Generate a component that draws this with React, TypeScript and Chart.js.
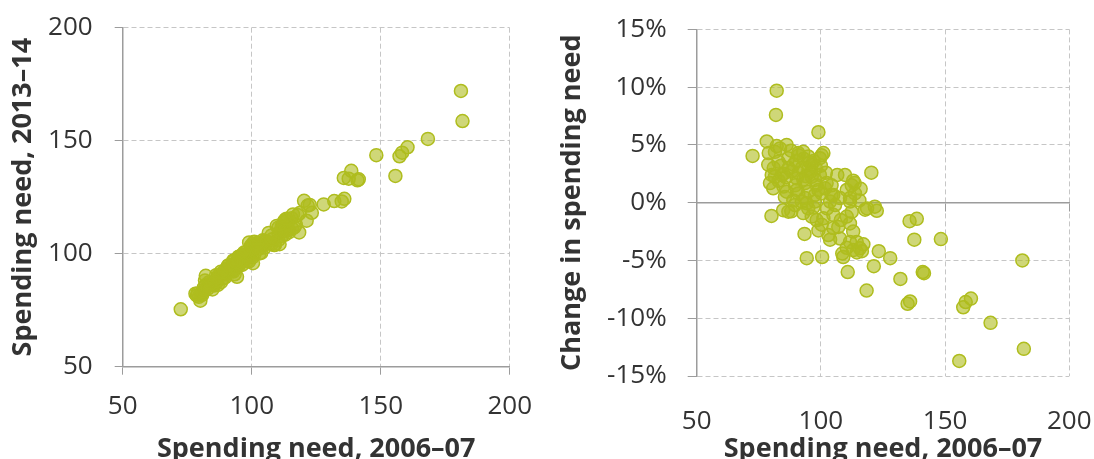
import React, { useEffect, useRef } from 'react';
import { Chart, registerables } from 'chart.js';

Chart.register(...registerables);

// Spending need per authority, 2006-07 (x in both panels)
const need0607: number[] = [
  82.2, 81.9, 99.0, 72.5, 78.2, 120.3, 80.1, 84.8, 88.1, 93.4,
  94.3, 100.5, 110.8, 118.4, 121.3, 123.3, 127.9, 132.0, 135.7, 138.6,
  137.6, 148.3, 141.0, 141.5, 134.9, 135.9, 181.1, 157.3, 158.3, 160.4,
  168.3, 155.7, 181.7, 117.8, 121.7, 122.5, 118.6, 106.6, 109.7, 113.6,
  113.0, 110.4, 113.7, 111.7, 112.4, 110.4, 111.7, 105.7, 105.0, 107.0,
  105.0, 103.0, 103.7, 107.7, 111.7, 114.4, 117.1, 110.4, 113.0, 115.7,
  108.6, 109.0, 99.0, 100.3, 96.3, 98.3, 101.0, 92.9, 94.9, 94.3,
  103.7, 105.0, 107.7, 111.7, 112.4, 88.9, 92.3, 86.2, 90.3, 80.8,
  79.5, 81.5, 84.9, 90.3, 92.9, 96.3, 98.3, 100.3, 97.6, 102.3,
  101.7, 86.2, 82.2, 81.5, 83.5, 101.0, 100.3, 92.9, 90.9, 94.9,
  99.6, 78.8, 82.9, 86.9, 80.2, 84.2, 88.2, 92.3, 96.3, 84.9,
  89.6, 93.6, 97.6, 99.6, 85.5, 90.9, 94.9, 99.0, 104.3, 104.3,
  93.6, 97.6, 89.6, 86.9, 88.0, 90.0, 95.5, 98.0, 87.0, 84.0,
  79.0, 96.0, 91.0, 100.0, 102.0, 81.0, 115.5, 116.0, 102.5, 108.0,
  113.0, 97.0, 89.0, 93.0, 95.0, 91.0, 86.0, 83.0, 97.0, 94.0,
  114.5, 116.5,
];

// Spending need per authority, 2013-14 (y in left panel)
const need1314: number[] = [
  90.2, 88.1, 105.0, 75.4, 82.3, 123.4, 79.2, 84.2, 87.4, 90.9,
  89.8, 95.8, 104.2, 109.4, 114.6, 118.1, 121.8, 123.3, 133.5, 136.7,
  133.2, 143.6, 132.5, 132.9, 123.1, 124.3, 172.0, 143.1, 144.7, 147.1,
  150.8, 134.4, 158.7, 117.1, 121.3, 121.6, 118.0, 109.2, 112.3, 115.5,
  115.1, 111.6, 114.6, 111.8, 111.5, 109.1, 109.7, 105.5, 103.9, 104.8,
  102.7, 100.1, 100.4, 104.4, 107.9, 110.5, 112.9, 106.1, 108.4, 111.1,
  103.8, 103.9, 96.6, 98.4, 95.1, 96.8, 99.6, 92.1, 94.4, 94.3,
  103.8, 105.7, 108.1, 112.1, 114.1, 89.1, 92.4, 87.0, 91.3, 81.8,
  80.9, 83.3, 87.0, 92.2, 94.8, 98.5, 99.8, 101.1, 98.3, 104.0,
  103.0, 90.5, 86.2, 85.1, 87.4, 105.3, 104.4, 97.0, 94.8, 98.7,
  103.4, 81.4, 85.8, 90.2, 82.1, 86.2, 90.6, 95.1, 99.5, 86.1,
  90.9, 95.2, 99.5, 102.0, 85.9, 91.6, 95.8, 100.1, 105.9, 105.0,
  94.0, 97.7, 89.4, 86.2, 92.0, 93.2, 98.8, 100.9, 89.6, 86.7,
  82.4, 98.6, 93.4, 103.2, 104.7, 83.4, 115.7, 117.4, 102.0, 106.4,
  110.2, 96.6, 91.9, 96.5, 97.8, 94.7, 87.9, 84.6, 100.5, 96.2,
  109.6, 111.6,
];

// Change in spending need, % (y in right panel)
const changePct: number[] = [
  9.7, 7.6, 6.1, 4.05, 5.3, 2.6, -1.15, -0.65, -0.75, -2.7,
  -4.8, -4.7, -6.0, -7.6, -5.5, -4.2, -4.8, -6.6, -1.6, -1.4,
  -3.2, -3.15, -6.0, -6.1, -8.75, -8.55, -5.0, -9.05, -8.6, -8.3,
  -10.4, -13.7, -12.65, -0.6, -0.35, -0.7, -0.5, 2.4, 2.4, 1.7,
  1.9, 1.1, 0.8, 0.1, -0.8, -1.2, -1.8, -0.2, -1.05, -2.1,
  -2.2, -2.8, -3.2, -3.1, -3.4, -3.4, -3.6, -3.9, -4.1, -3.95,
  -4.4, -4.7, -2.4, -1.9, -1.2, -1.5, -1.35, -0.9, -0.5, -0.05,
  0.1, 0.67, 0.4, 0.4, 1.5, 0.2, 0.1, 0.95, 1.1, 1.25,
  1.7, 2.25, 2.5, 2.1, 2.0, 2.25, 1.5, 0.8, 0.67, 1.7,
  1.25, 5.0, 4.9, 4.4, 4.7, 4.3, 4.1, 4.4, 4.3, 4.0,
  3.85, 3.3, 3.55, 3.85, 2.4, 2.4, 2.7, 3.0, 3.3, 1.4,
  1.5, 1.7, 1.97, 2.4, 0.5, 0.8, 0.95, 1.1, 1.5, 0.67,
  0.4, 0.1, -0.2, -0.78, 4.5, 3.6, 3.5, 3.0, 3.0, 3.2,
  4.3, 2.7, 2.6, 3.2, 2.6, 3.0, 0.2, 1.2, -0.5, -1.5,
  -2.5, -0.4, 3.3, 3.8, 2.9, 4.1, 2.2, 1.9, 3.6, 2.3,
  -4.3, -4.2,
];

const xTickValues: number[] = [50, 100, 150, 200];
const leftYTickValues: number[] = [50, 100, 150, 200];
const rightYTickValues: number[] = [-15, -10, -5, 0, 5, 10, 15];

const xTitle = 'Spending need, 2006–07';
const leftYTitle = 'Spending need, 2013–14';
const rightYTitle = 'Change in spending need';

const FAMILY = "'Open Sans', 'DejaVu Sans', sans-serif";
const TEXT = '#333333';
const GRID = '#c6c6c6';
const AXIS = '#9c9c9c';
const DASH = [5, 3];
const TICK_FONT = { family: FAMILY, size: 26 };
const TITLE_FONT = { family: FAMILY, size: 27, weight: 'bold' as const };

const CW = 547;
const CH = 470;

const pointStyle = {
  backgroundColor: 'rgba(175,189,30,0.6)',
  borderColor: 'rgb(175,189,30)',
  borderWidth: 1.5,
  pointRadius: 6.5,
  pointHoverRadius: 6.5,
};

const setTicks = (vals: number[]) => (scale: any) => {
  scale.ticks = vals.map((v) => ({ value: v }));
};

const fixWidth = (w: number) => (s: any) => {
  s.width = w;
  s.paddingTop = 0;
  s.paddingBottom = 0;
};

const fixHeight = (h: number) => (s: any) => {
  s.height = h;
  s.paddingLeft = 0;
  s.paddingRight = 0;
};

function makeLeft(canvas: HTMLCanvasElement) {
  return new Chart(canvas, {
    type: 'scatter',
    data: {
      datasets: [
        {
          data: need0607.map((x, i) => ({ x, y: need1314[i] })),
          ...pointStyle,
        },
      ],
    },
    options: {
      animation: false,
      responsive: false,
      events: [],
      plugins: { legend: { display: false }, tooltip: { enabled: false } },
      layout: { padding: { left: 0, top: 27.7, right: CW - 509.7, bottom: 0 } },
      scales: {
        x: {
          type: 'linear',
          position: 'bottom',
          min: 50,
          max: 200,
          afterBuildTicks: setTicks(xTickValues),
          afterFit: fixHeight(CH - 366.7),
          grid: { color: GRID, tickColor: AXIS, tickLength: 8, lineWidth: 1 },
          border: { color: AXIS, width: 1.5, dash: DASH },
          ticks: { padding: 16.6, color: TEXT, font: TICK_FONT, maxRotation: 0 },
          title: {
            display: true,
            text: xTitle,
            color: TEXT,
            font: TITLE_FONT,
            padding: { top: 0, bottom: 4 },
          },
        },
        y: {
          type: 'linear',
          position: 'left',
          min: 50,
          max: 200,
          afterBuildTicks: setTicks(leftYTickValues),
          afterFit: fixWidth(122.7),
          grid: { color: GRID, tickColor: AXIS, tickLength: 8, lineWidth: 1 },
          border: { color: AXIS, width: 1.5, dash: DASH },
          ticks: { padding: 22, color: TEXT, font: TICK_FONT },
          title: {
            display: true,
            text: leftYTitle,
            color: TEXT,
            font: TITLE_FONT,
            padding: { top: 7, bottom: 0 },
          },
        },
      },
    } as any,
  });
}

function makeRight(canvas: HTMLCanvasElement) {
  return new Chart(canvas, {
    type: 'scatter',
    data: {
      datasets: [
        {
          data: need0607.map((x, i) => ({ x, y: changePct[i] })),
          xAxisID: 'x',
          yAxisID: 'y',
          ...pointStyle,
        },
      ],
    },
    options: {
      animation: false,
      responsive: false,
      events: [],
      plugins: { legend: { display: false }, tooltip: { enabled: false } },
      layout: { padding: { left: 0, top: 29.4, right: CW - 522.3, bottom: 0 } },
      scales: {
        x: {
          type: 'linear',
          axis: 'x',
          position: { y: 0 },
          min: 50,
          max: 200,
          afterBuildTicks: setTicks(xTickValues),
          afterFit: fixHeight(0),
          grid: { color: GRID, tickColor: AXIS, tickLength: 8, lineWidth: 1 },
          border: { color: AXIS, width: 1.5, dash: DASH },
          ticks: { display: false },
        },
        x2: {
          type: 'linear',
          axis: 'x',
          position: 'bottom',
          min: 50,
          max: 200,
          afterBuildTicks: setTicks(xTickValues),
          afterFit: fixHeight(CH - 376),
          grid: { display: false },
          border: { display: false },
          ticks: { padding: 21.6, color: TEXT, font: TICK_FONT, maxRotation: 0 },
          title: {
            display: true,
            text: xTitle,
            color: TEXT,
            font: TITLE_FONT,
            padding: { top: 0, bottom: 4 },
          },
        },
        y: {
          type: 'linear',
          position: 'left',
          min: -15,
          max: 15,
          afterBuildTicks: setTicks(rightYTickValues),
          afterFit: fixWidth(149.7),
          grid: { color: GRID, tickColor: AXIS, tickLength: 9, lineWidth: 1 },
          border: { color: AXIS, width: 1.5, dash: DASH },
          ticks: {
            padding: 21,
            color: TEXT,
            font: TICK_FONT,
            callback: (v: any) => `${v}%`,
          },
          title: {
            display: true,
            text: rightYTitle,
            color: TEXT,
            font: TITLE_FONT,
            padding: { top: 8.9, bottom: 0 },
          },
        },
      },
    } as any,
  });
}

export default function App() {
  const leftRef = useRef<HTMLCanvasElement | null>(null);
  const rightRef = useRef<HTMLCanvasElement | null>(null);

  useEffect(() => {
    const l = leftRef.current ? makeLeft(leftRef.current) : null;
    const r = rightRef.current ? makeRight(rightRef.current) : null;
    return () => {
      l?.destroy();
      r?.destroy();
    };
  }, []);

  return (
    <div
      style={{
        position: 'absolute',
        left: 0,
        top: 0,
        width: 1094,
        height: 459,
        overflow: 'hidden',
        background: '#ffffff',
      }}
    >
      <canvas
        ref={leftRef}
        width={CW}
        height={CH}
        style={{ position: 'absolute', left: 0, top: 0, width: CW, height: CH }}
      />
      <canvas
        ref={rightRef}
        width={CW}
        height={CH}
        style={{ position: 'absolute', left: CW, top: 0, width: CW, height: CH }}
      />
    </div>
  );
}
